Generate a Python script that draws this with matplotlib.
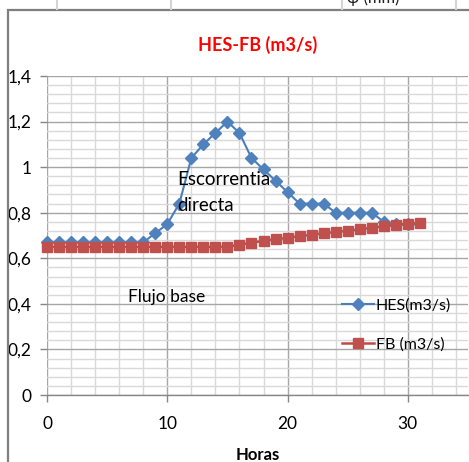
import matplotlib
matplotlib.use("Agg")
import matplotlib.pyplot as plt
from matplotlib.ticker import MultipleLocator, FuncFormatter
from matplotlib.patches import Rectangle
from matplotlib.lines import Line2D

hours_hes = list(range(0, 31))
hes = [0.67, 0.67, 0.67, 0.67, 0.67, 0.67, 0.67, 0.67, 0.67, 0.71,
       0.75, 0.84, 1.04, 1.10, 1.15, 1.20, 1.15, 1.04, 0.99, 0.94,
       0.89, 0.84, 0.84, 0.84, 0.80, 0.80, 0.80, 0.80, 0.76, 0.75, 0.75]
hours_fb = list(range(0, 32))
fb = [0.65, 0.65, 0.65, 0.65, 0.65, 0.65, 0.65, 0.65, 0.65, 0.65,
      0.65, 0.65, 0.65, 0.65, 0.65, 0.65, 0.66, 0.668, 0.677, 0.683,
      0.69, 0.697, 0.703, 0.71, 0.715, 0.721, 0.727, 0.734, 0.74, 0.746,
      0.752, 0.756]

title = "HES-FB (m3/s)"
xlabel = "Horas"
label_hes = "HES(m3/s)"
label_fb = "FB (m3/s)"

plt.rcParams['font.family'] = ['Lato', 'DejaVu Sans']

W, H = 469, 462
fig = plt.figure(figsize=(W / 100, H / 100), dpi=100)

# chart border and spreadsheet cell lines above it
fig.patches.append(Rectangle((8 / W, -0.1), 1.2, (H - 10) / H + 0.1,
                             transform=fig.transFigure, fill=False,
                             edgecolor='#7f7f7f', linewidth=1.6))
for xp in [57, 171, 342, 456]:
    fig.add_artist(Line2D([xp / W, xp / W], [1 - 9 / H, 1.0],
                          transform=fig.transFigure, color='#d4d4d4', lw=1.5))
fig.text(347 / W, 1 - 3 / H, "φ (mm)", fontsize=12, va='baseline', ha='left', color='#222222')

ax = fig.add_axes([47 / W, (H - 395) / H, (468 - 47) / W, (395 - 76) / H])
ax.set_xlim(0, 35)
ax.set_ylim(0, 1.4)

ax.xaxis.set_major_locator(MultipleLocator(10))
ax.xaxis.set_minor_locator(MultipleLocator(2))
ax.yaxis.set_major_locator(MultipleLocator(0.2))
ax.yaxis.set_minor_locator(MultipleLocator(0.04))
ax.yaxis.set_major_formatter(FuncFormatter(lambda v, p: ('%g' % round(v, 2)).replace('.', ',')))

ax.grid(which='major', color='#a6a6a6', linewidth=1.0)
ax.grid(which='minor', color='#d9d9d9', linewidth=1.0)
ax.set_axisbelow(True)

for s in ['top', 'right', 'left']:
    ax.spines[s].set_visible(False)
ax.spines['bottom'].set_color('#868686')
ax.spines['bottom'].set_linewidth(1.0)

ax.tick_params(axis='both', which='major', labelsize=12.5, colors='#868686', labelcolor='black', length=5, width=1)
ax.tick_params(axis='both', which='minor', length=0)
ax.tick_params(axis='x', pad=10)
ax.tick_params(axis='y', pad=6)

ax.plot(hours_hes, hes, color='#4a7ebb', marker='D', markersize=6, linewidth=1.5,
        markerfacecolor='#4f81bd', markeredgecolor='#4f81bd', label=label_hes, clip_on=False, zorder=3)
ax.plot(hours_fb, fb, color='#be4b48', marker='s', markersize=7, linewidth=1.8,
        markerfacecolor='#c0504d', markeredgecolor='#c0504d', label=label_fb, clip_on=False, zorder=4)

ax.set_title(title, color='#ff0000', fontweight='bold', fontsize=13, pad=18)
ax.set_xlabel(xlabel, fontweight='bold', fontsize=12, labelpad=11)

ax.text(10.8, 0.89, "Escorrentia\ndirecta", fontsize=13.5, ha='left', va='center', linespacing=1.65)
ax.text(6.7, 0.43, "Flujo base", fontsize=12.5, ha='left', va='center')

leg = ax.legend(loc='upper left', bbox_to_anchor=(289 / 421, (395 - 292) / 319),
                frameon=False, fontsize=11.5, handlelength=2.0, handletextpad=0.1,
                labelspacing=1.55, borderaxespad=0)

fig.savefig("out.png", dpi=100)
